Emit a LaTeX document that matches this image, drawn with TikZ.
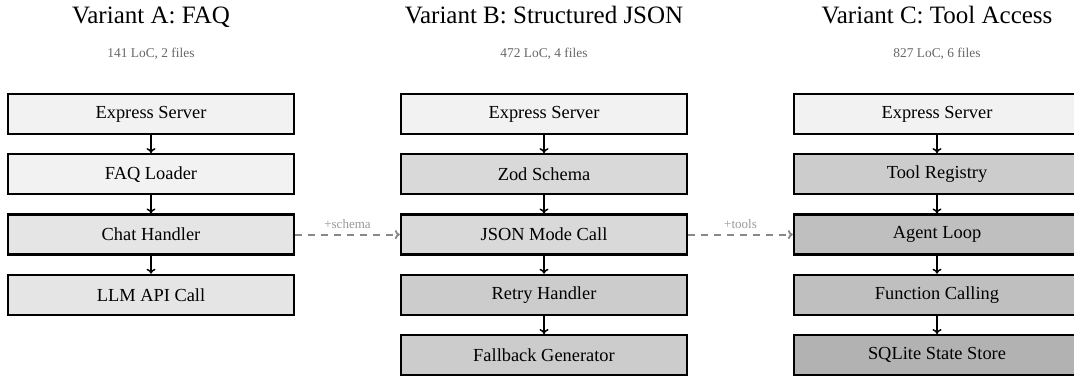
\documentclass[tikz,border=0pt]{standalone}
\usepackage{fontspec}
\setmainfont{Liberation Serif}
\usetikzlibrary{arrows.meta}
\definecolor{subgray}{HTML}{666666}
\definecolor{lblgray}{HTML}{999999}
\definecolor{dashgray}{HTML}{888888}
\tikzset{
  box/.style={draw=black, line width=2.3pt, minimum width=286pt, minimum height=40pt,
    inner sep=0pt, font=\fontsize{18.4}{21}\selectfont},
  ttl/.style={anchor=base, font=\fontsize{25}{28}\selectfont},
  sub/.style={anchor=base, text=subgray, font=\fontsize{13.4}{15}\selectfont},
  flow/.style={-{To[length=5pt,width=9pt]}, line width=1.5pt},
  evo/.style={-{To[length=5pt,width=9pt]}, dashgray, line width=1.8pt, dash pattern=on 7pt off 6pt},
  lbl/.style={text=lblgray, font=\fontsize{13}{15}\selectfont, anchor=south, inner sep=5pt}
}
\begin{document}
\begin{tikzpicture}[x=1pt,y=-1pt]
\useasboundingbox (0,0) rectangle (1074,377);
% titles
\node[ttl] (ta) at (151,23.3) {Variant A: FAQ};
\node[ttl] (tb) at (544,23.3) {Variant B: Structured JSON};
\node[ttl] (tc) at (937,23.3) {Variant C: Tool Access};
\node[sub] (sa) at (151,58) {141 LoC, 2 files};
\node[sub] (sb) at (544,58) {472 LoC, 4 files};
\node[sub] (sc) at (937,58) {827 LoC, 6 files};
% column A
\node[box, fill=black!5]  (a1) at (151,114)   {Express Server};
\node[box, fill=black!5]  (a2) at (151,174.3) {FAQ Loader};
\node[box, fill=black!10] (a3) at (151,234.6) {Chat Handler};
\node[box, fill=black!10] (a4) at (151,294.9) {LLM API Call};
% column B
\node[box, fill=black!5]  (b1) at (544,114)   {Express Server};
\node[box, fill=black!15] (b2) at (544,174.3) {Zod Schema};
\node[box, fill=black!15] (b3) at (544,234.6) {JSON Mode Call};
\node[box, fill=black!20] (b4) at (544,294.9) {Retry Handler};
\node[box, fill=black!20] (b5) at (544,355.2) {Fallback Generator};
% column C
\node[box, fill=black!5]  (c1) at (937,114)   {Express Server};
\node[box, fill=black!20] (c2) at (937,174.3) {Tool Registry};
\node[box, fill=black!25] (c3) at (937,234.6) {Agent Loop};
\node[box, fill=black!25] (c4) at (937,294.9) {Function Calling};
\node[box, fill=black!30] (c5) at (937,355.2) {SQLite State Store};
% flows
\draw[flow] (a1) -- (a2);
\draw[flow] (a2) -- (a3);
\draw[flow] (a3) -- (a4);
\draw[flow] (b1) -- (b2);
\draw[flow] (b2) -- (b3);
\draw[flow] (b3) -- (b4);
\draw[flow] (b4) -- (b5);
\draw[flow] (c1) -- (c2);
\draw[flow] (c2) -- (c3);
\draw[flow] (c3) -- (c4);
\draw[flow] (c4) -- (c5);
% evolution
\draw[evo] (a3) -- node[lbl] {+schema} (b3);
\draw[evo] (b3) -- node[lbl] {+tools} (c3);
\end{tikzpicture}
\end{document}
